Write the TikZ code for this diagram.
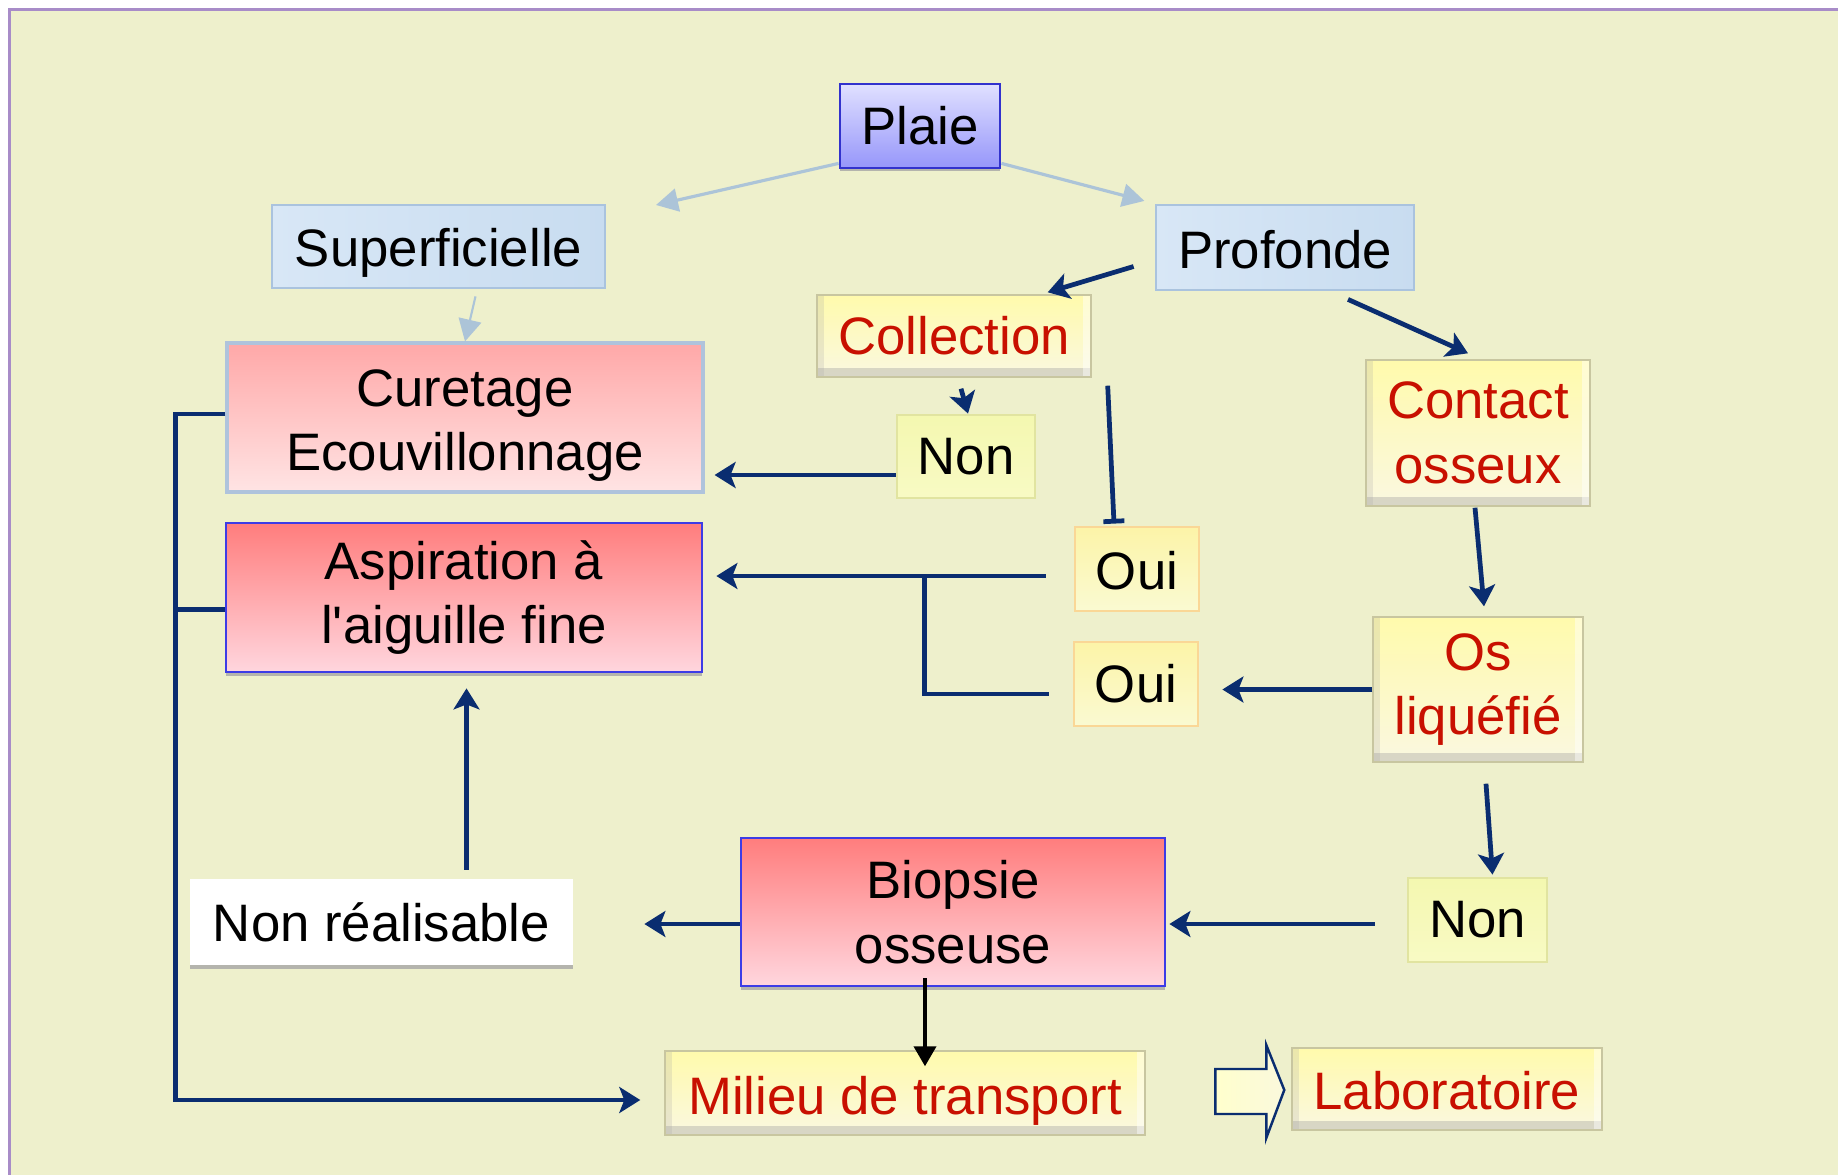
\documentclass[tikz,border=0pt]{standalone}
\usepackage{fontspec}
\setmainfont{Liberation Sans}
\usetikzlibrary{arrows.meta,positioning,calc,shadows}
\definecolor{bgc}{RGB}{238,240,204}
\definecolor{frm}{RGB}{168,140,200}
\definecolor{nav}{RGB}{10,45,112}
\definecolor{pale}{RGB}{172,196,216}
\definecolor{rtx}{RGB}{200,16,0}
\newcommand\dn[2]{\raisebox{-#1}[\height][\depth]{#2}}
\tikzset{
  base/.style={font=\fontsize{15}{18.3}\selectfont,align=center,inner sep=2pt,line width=.8pt},
  shd/.style={drop shadow={shadow xshift=0pt,shadow yshift=-.035cm,fill=black!35,opacity=.8}},
  pl/.style ={base,shd,draw={rgb,255:red,50;green,50;blue,205},
              top color={rgb,255:red,224;green,224;blue,255},bottom color={rgb,255:red,150;green,150;blue,250}},
  blu/.style={base,draw={rgb,255:red,170;green,195;blue,222},
              left color={rgb,255:red,216;green,231;blue,246},right color={rgb,255:red,200;green,220;blue,240}},
  pnk/.style={base,draw={rgb,255:red,175;green,195;blue,220},line width=.9pt,
              top color={rgb,255:red,255;green,168;blue,168},bottom color={rgb,255:red,255;green,228;blue,228}},
  rsd/.style={base,shd,draw={rgb,255:red,60;green,60;blue,230},
              top color={rgb,255:red,255;green,125;blue,125},bottom color={rgb,255:red,255;green,214;blue,222}},
  yel/.style={base,text=rtx,draw={rgb,255:red,200;green,198;blue,160},line width=.4pt,
              top color={rgb,255:red,255;green,250;blue,172},bottom color={rgb,255:red,250;green,248;blue,224},
              path picture={
                \fill[black!40,opacity=.35] (path picture bounding box.south west) rectangle ([yshift=2.6pt]path picture bounding box.south east);
                \fill[black!35,opacity=.22] (path picture bounding box.south west) rectangle ([xshift=2pt]path picture bounding box.north west);
                \fill[white,opacity=.45] (path picture bounding box.north east) rectangle ([xshift=-2.4pt]path picture bounding box.south east);
              }},
  ans/.style={base,draw={rgb,255:red,225;green,228;blue,160},
              top color={rgb,255:red,244;green,248;blue,176},bottom color={rgb,255:red,248;green,250;blue,196}},
  oui/.style={base,draw={rgb,255:red,250;green,215;blue,150},
              top color={rgb,255:red,252;green,244;blue,168},bottom color={rgb,255:red,250;green,250;blue,210}},
  wht/.style={base,shd,fill=white},
  ar/.style ={-{Stealth[length=2.1mm,width=2.6mm,inset=.5mm]},line width=1.35pt,draw=nav},
  ln/.style ={line width=1.35pt,draw=nav},
  lar/.style={-{Triangle[length=2.2mm,width=2.3mm]},line width=.9pt,draw=pale},
}
\begin{document}
\begin{tikzpicture}
  \useasboundingbox (0,0) rectangle (18.38,-11.75);
  \fill[white] (0,0) rectangle (18.38,-11.75);
  \fill[bgc] (.08,-.08) rectangle (18.38,-11.75);
  \draw[frm,line width=.035cm] (.095,-11.75) -- (.095,-.095) -- (18.38,-.095);

  % boxes
  \node[pl,minimum width=1.6cm,minimum height=.84cm] (plaie) at (9.20,-1.26){Plaie};
  \node[blu,minimum width=3.33cm,minimum height=.83cm] (sup) at (4.385,-2.465){\dn{1.7pt}{Superficielle}};
  \node[blu,minimum width=2.58cm,minimum height=.85cm] (prof) at (12.85,-2.475){\dn{.7pt}{Profonde}};
  \node[yel,minimum width=2.74cm,minimum height=.82cm] (coll) at (9.54,-3.36){Collection};
  \node[pnk,minimum width=4.76cm,minimum height=1.49cm] (cur) at (4.65,-4.175){\dn{2.3pt}{Curetage}\\\dn{2.3pt}{Ecouvillonnage}};
  \node[ans,minimum width=1.38cm,minimum height=.83cm] (non1) at (9.66,-4.565){Non};
  \node[yel,minimum width=2.24cm,minimum height=1.46cm] (cont) at (14.78,-4.33){Contact\\osseux};
  \node[rsd,minimum width=4.76cm,minimum height=1.49cm] (asp) at (4.64,-5.975){Aspiration à\\l\textquotesingle aiguille fine};
  \node[oui,minimum width=1.24cm,minimum height=.84cm] (oui1) at (11.37,-5.69){\dn{.6pt}{Oui}};
  \node[oui,minimum width=1.24cm,minimum height=.84cm] (oui2) at (11.36,-6.84){Oui};
  \node[yel,minimum width=2.10cm,minimum height=1.45cm] (os) at (14.78,-6.895){Os\\liquéfié};
  \node[wht,minimum width=3.83cm,minimum height=.86cm] (nreal) at (3.815,-9.22){Non réalisable};
  \node[rsd,minimum width=4.24cm,minimum height=1.48cm] (biop) at (9.53,-9.12){Biopsie\\osseuse};
  \node[ans,minimum width=1.39cm,minimum height=.84cm] (non2) at (14.775,-9.20){Non};
  \node[yel,minimum width=4.80cm,minimum height=.84cm] (mil) at (9.05,-10.93){\dn{2.2pt}{Milieu de transport}};
  \node[yel,minimum width=3.10cm,minimum height=.82cm] (labo) at (14.47,-10.89){\dn{.6pt}{Laboratoire}};

  % plaie split
  \coordinate (supend) at (6.56,-2.05);
  \draw[lar] ([yshift=.06cm]plaie.south west) -- (supend);
  \draw[lar,shorten >=3pt] ([yshift=.06cm]plaie.south east) -- (prof.north west);
  \draw[lar,line width=.6pt] ([xshift=.37cm,yshift=-.07cm]sup.south) -- (cur.north);

  % profonde
  \draw[ar] ([xshift=-.21cm,yshift=-.19cm]prof.west) -- ([xshift=-.44cm,yshift=.02cm]coll.north east);
  \draw[ar] ([xshift=.63cm,yshift=-.08cm]prof.south) -- ([xshift=-.1cm,yshift=.06cm]cont.north);
  \draw[ar] ([xshift=.07cm,yshift=-.11cm]coll.south) -- ([xshift=.02cm]non1.north);
  \draw[ln,-{Bar[width=2.1mm]}] ([xshift=.16cm,yshift=-.08cm]coll.south east) -- ([xshift=-.23cm,yshift=.02cm]oui1.north);
  \draw[ar,shorten >=.1cm] ([yshift=-.185cm]non1.west) -- ([yshift=-.185cm]non1.west -| cur.east);
  \draw[ar] ([xshift=-.03cm,yshift=-.01cm]cont.south) -- ([xshift=.06cm,yshift=.1cm]os.north);

  % oui -> aspiration
  \coordinate (jn) at ([xshift=-1.49cm,yshift=-.07cm]oui1.west);
  \draw[ar,shorten <=.28cm,shorten >=.13cm] ([yshift=-.07cm]oui1.west) -- ([yshift=-.07cm]oui1.west -| asp.east);
  \draw[ln,shorten <=.24cm] ([yshift=-.1cm]oui2.west) -| (jn);
  \draw[ar,shorten >=.23cm] (os.west) -- (os.west -| oui2.east);
  \draw[ar] ([xshift=.08cm,yshift=-.21cm]os.south) -- ([xshift=.15cm,yshift=.02cm]non2.north);

  % biopsie
  \draw[ar,shorten <=.32cm,shorten >=.03cm] ([yshift=-.04cm]non2.west) -- ([yshift=-.04cm]non2.west -| biop.east);
  \draw[ar,shorten >=.7cm] ([yshift=-.12cm]biop.west) -- ([yshift=-.12cm]biop.west -| nreal.east);
  \draw[ar,shorten <=.08cm,shorten >=.15cm] ([xshift=.85cm]nreal.north) -- ([xshift=.85cm]nreal.north |- asp.south);
  \draw[-{Triangle[length=2mm,width=2.2mm]},line width=1.1pt,black]
    ([xshift=-.28cm,yshift=.09cm]biop.south) -- ([xshift=-.28cm,yshift=-.16cm]biop.south |- mil.north);

  % left bracket
  \draw[ar,shorten >=.24cm] ([yshift=.035cm]cur.west) -- ++(-.5,0) |- ([yshift=-.07cm]mil.west);
  \draw[ln] ([yshift=-.12cm]asp.west) -- ++(-.5,0);

  % block arrow to labo
  \draw[nav,line width=.7pt,left color={rgb,255:red,255;green,255;blue,205},right color={rgb,255:red,250;green,248;blue,220}]
    ([xshift=-.76cm,yshift=.2cm]labo.west) -- ++(.51,0) -- ++(0,.24) -- ([xshift=-.07cm,yshift=-.01cm]labo.west)
    -- ([xshift=-.25cm,yshift=-.49cm]labo.west) -- ++(0,.24) -- ++(-.51,0) -- cycle;
\end{tikzpicture}
\end{document}
